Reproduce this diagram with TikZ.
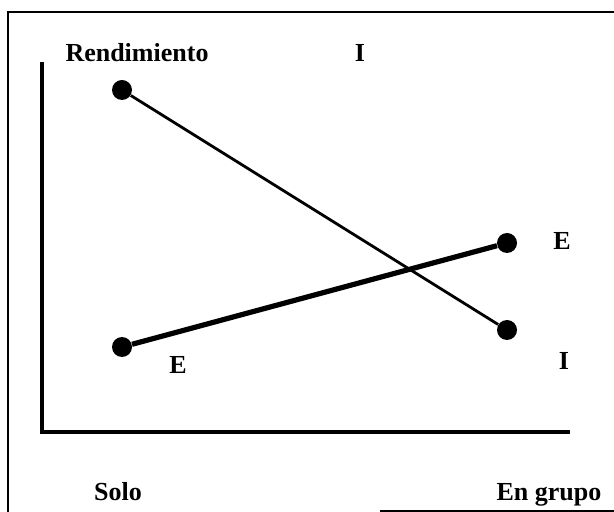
\documentclass[tikz,border=0pt]{standalone}
\usepackage{fontspec}
\setmainfont{Liberation Serif}
\begin{document}
\begin{tikzpicture}[
        x=0.5pt,
        y=-0.5pt,
        font=\bfseries\fontsize{13}{15}\selectfont
    ]
    \tikzset{
        mydot/.style = {circle, fill=black, inner sep=0pt, minimum size=10pt},
        mylabel/.style = {inner sep=0pt, anchor=base},
        edgethin/.style = {-, line width=1.4pt},
        edgethick/.style = {-, line width=2.6pt},
        axis/.style = {-, line width=2pt},
    }
    \useasboundingbox (0,0) rectangle (614,512);
    \draw[line width=1pt] (8,700) -- (8,12) -- (700,12);
    \draw[line width=0.8pt] (380,511) -- (700,511);
    %
    \coordinate (top) at (42,62);
    \coordinate (origin) at (42,432);
    \coordinate (right) at (570,432);
    \draw[axis] (top) -- (origin) -- (right);
    %
    \node[mydot] at (122,90) (ia) {};
    \node[mydot] at (507,330) (ib) {};
    \node[mydot] at (122,347) (ea) {};
    \node[mydot] at (507,243) (eb) {};
    %
    \draw[edgethin] (ia) -- (ib);
    \draw[edgethick] (ea) -- (eb);
    %
    \node[mylabel] at (137,62) (rend) {Rendimiento};
    \node[mylabel] at (360,62) (li) {I};
    \node[mylabel] at (562,250) (le) {E};
    \node[mylabel] at (564,369) (lii) {I};
    \node[mylabel] at (178,373) (lee) {E};
    \node[mylabel] at (118,500) (solo) {Solo};
    \node[mylabel] at (549,500) (grupo) {En grupo};
\end{tikzpicture}
\end{document}
